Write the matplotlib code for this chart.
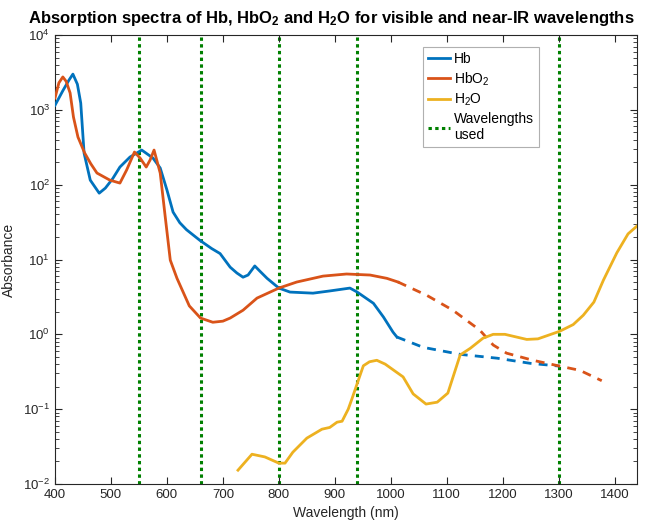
import numpy as np
import matplotlib
matplotlib.use("Agg")
import matplotlib.pyplot as plt
from matplotlib.ticker import LogLocator, NullFormatter, FixedLocator

plt.rcParams['font.family'] = ['Liberation Sans', 'DejaVu Sans']
plt.rcParams['mathtext.fontset'] = 'custom'
plt.rcParams['mathtext.rm'] = 'Liberation Sans'
plt.rcParams['mathtext.bf'] = 'Liberation Sans:bold'
plt.rcParams['mathtext.it'] = 'Liberation Sans:italic'

# Deoxyhaemoglobin (Hb): measured part and extrapolated part
hb_wl = [400, 414, 425, 432, 440, 446, 452, 463, 479, 490, 503, 516, 534, 555, 575,
         588, 600, 611, 623, 635, 659, 680, 695, 713, 725, 736, 745, 757, 766, 779,
         800, 820, 861, 891, 927, 940, 969, 987, 1004, 1011]
hb_abs = [1150, 1800, 2500, 3000, 2200, 1230, 263, 115, 77, 90, 120, 172, 234, 290, 227,
          167, 85, 43, 31, 25, 18, 14, 12, 7.9, 6.6, 5.8, 6.2, 8.2, 7.0, 5.6,
          4.15, 3.67, 3.55, 3.8, 4.15, 3.67, 2.6, 1.7, 1.07, 0.92]
hb_ext_wl = [1011, 1058, 1124, 1190, 1249, 1302]
hb_ext_abs = [0.92, 0.67, 0.54, 0.48, 0.41, 0.376]

# Oxyhaemoglobin (HbO2): measured part and extrapolated part
hbo2_wl = [400, 407, 414, 420, 427, 433, 441, 453, 464, 475, 498, 516, 528, 542, 552,
           563, 570, 577, 588, 597, 606, 618, 640, 660, 682, 700, 713, 736, 761, 800,
           832, 879, 921, 963, 993, 1013]
hbo2_abs = [1440, 2300, 2750, 2400, 1680, 800, 433, 265, 190, 143, 115, 105, 157, 273,
            227, 172, 214, 290, 143, 37, 9.8, 5.6, 2.4, 1.65, 1.45, 1.5, 1.65, 2.1, 3.05,
            4.15, 5.0, 6.0, 6.4, 6.2, 5.6, 5.0]
hbo2_ext_wl = [1013, 1065, 1111, 1159, 1183, 1207, 1254, 1302, 1338, 1377]
hbo2_ext_abs = [5.0, 3.3, 2.1, 1.14, 0.72, 0.56, 0.45, 0.376, 0.33, 0.24]

# Water (H2O)
h2o_wl = [727, 752, 775, 800, 811, 825, 850, 877, 891, 904, 913, 924, 931, 940,
          951, 962, 975, 990, 1022, 1040, 1063, 1083, 1102, 1124, 1142, 1165,
          1183, 1204, 1243, 1263, 1302, 1326, 1344, 1363, 1380, 1404, 1424, 1440]
h2o_abs = [0.0153, 0.025, 0.023, 0.019, 0.019, 0.0266, 0.041, 0.054, 0.057, 0.067,
           0.069, 0.10, 0.14, 0.22, 0.38, 0.43, 0.45, 0.40, 0.27, 0.16, 0.117,
           0.124, 0.164, 0.53, 0.65, 0.89, 1.0, 1.0, 0.855, 0.87, 1.1, 1.35, 1.8,
           2.7, 5.3, 12.3, 22, 28]

# Wavelengths selected for the measurement
used_wl = [550, 660, 800, 940, 1300]

x_ticks = [400, 500, 600, 700, 800, 900, 1000, 1100, 1200, 1300, 1400]

c_hb = (0.0, 0.447, 0.741)
c_hbo2 = (0.850, 0.325, 0.098)
c_h2o = (0.929, 0.694, 0.125)
c_used = (0.0, 0.5, 0.0)

fig = plt.figure(figsize=(6.65, 5.27), dpi=100)
ax = fig.add_axes([55 / 665, 1 - 484 / 527, 582 / 665, 449 / 527])

lw = 2.0
dash = (0, (3.2, 2.6))
dot = (0, (1.1, 1.1))
for w in used_wl:
    ax.axvline(w, color=c_used, lw=2.2, linestyle=dot, zorder=1)

l_hb, = ax.plot(hb_wl, hb_abs, color=c_hb, lw=lw, zorder=3)
ax.plot(hb_ext_wl, hb_ext_abs, color=c_hb, lw=lw, linestyle=dash, zorder=3)
l_hbo2, = ax.plot(hbo2_wl, hbo2_abs, color=c_hbo2, lw=lw, zorder=3)
ax.plot(hbo2_ext_wl, hbo2_ext_abs, color=c_hbo2, lw=lw, linestyle=dash, zorder=3)
l_h2o, = ax.plot(h2o_wl, h2o_abs, color=c_h2o, lw=lw, zorder=3)
l_used, = ax.plot([], [], color=c_used, lw=2.2, linestyle=dot)

ax.set_yscale('log')
ax.set_xlim(400, 1440)
ax.set_ylim(1e-2, 1e4)
ax.xaxis.set_major_locator(FixedLocator(x_ticks))
ax.yaxis.set_major_locator(LogLocator(base=10, numticks=10))
ax.yaxis.set_minor_locator(LogLocator(base=10, subs=np.arange(2, 10), numticks=20))
ax.yaxis.set_minor_formatter(NullFormatter())

ax.tick_params(which='both', direction='in', top=True, right=True,
               labelsize=9.5, color='#262626', labelcolor='#262626')
ax.tick_params(which='major', length=5, width=0.8)
ax.tick_params(which='minor', length=3, width=0.6)
for s in ax.spines.values():
    s.set_color('#262626')
    s.set_linewidth(0.8)

ax.set_xlabel('Wavelength (nm)', fontsize=10, color='#262626', labelpad=4)
ax.set_ylabel('Absorbance', fontsize=10, color='#262626', labelpad=5)
ax.set_title(r'Absorption spectra of Hb, HbO$_\mathbf{2}$ and H$_\mathbf{2}$O '
             r'for visible and near-IR wavelengths',
             fontsize=12, fontweight='bold', pad=9, x=0.475)

leg = ax.legend([l_hb, l_hbo2, l_h2o, l_used],
                ['Hb', r'HbO$_2$', r'H$_2$O', 'Wavelengths\nused'],
                loc='upper left', bbox_to_anchor=(0.632, 0.973),
                fontsize=10, frameon=True, fancybox=False, framealpha=1,
                handlelength=1.6, handletextpad=0.3, borderpad=0.35,
                labelspacing=0.3, borderaxespad=0)
leg.get_frame().set_edgecolor('#b0b0b0')
leg.get_frame().set_linewidth(0.8)

fig.savefig('out.png', dpi=100)
